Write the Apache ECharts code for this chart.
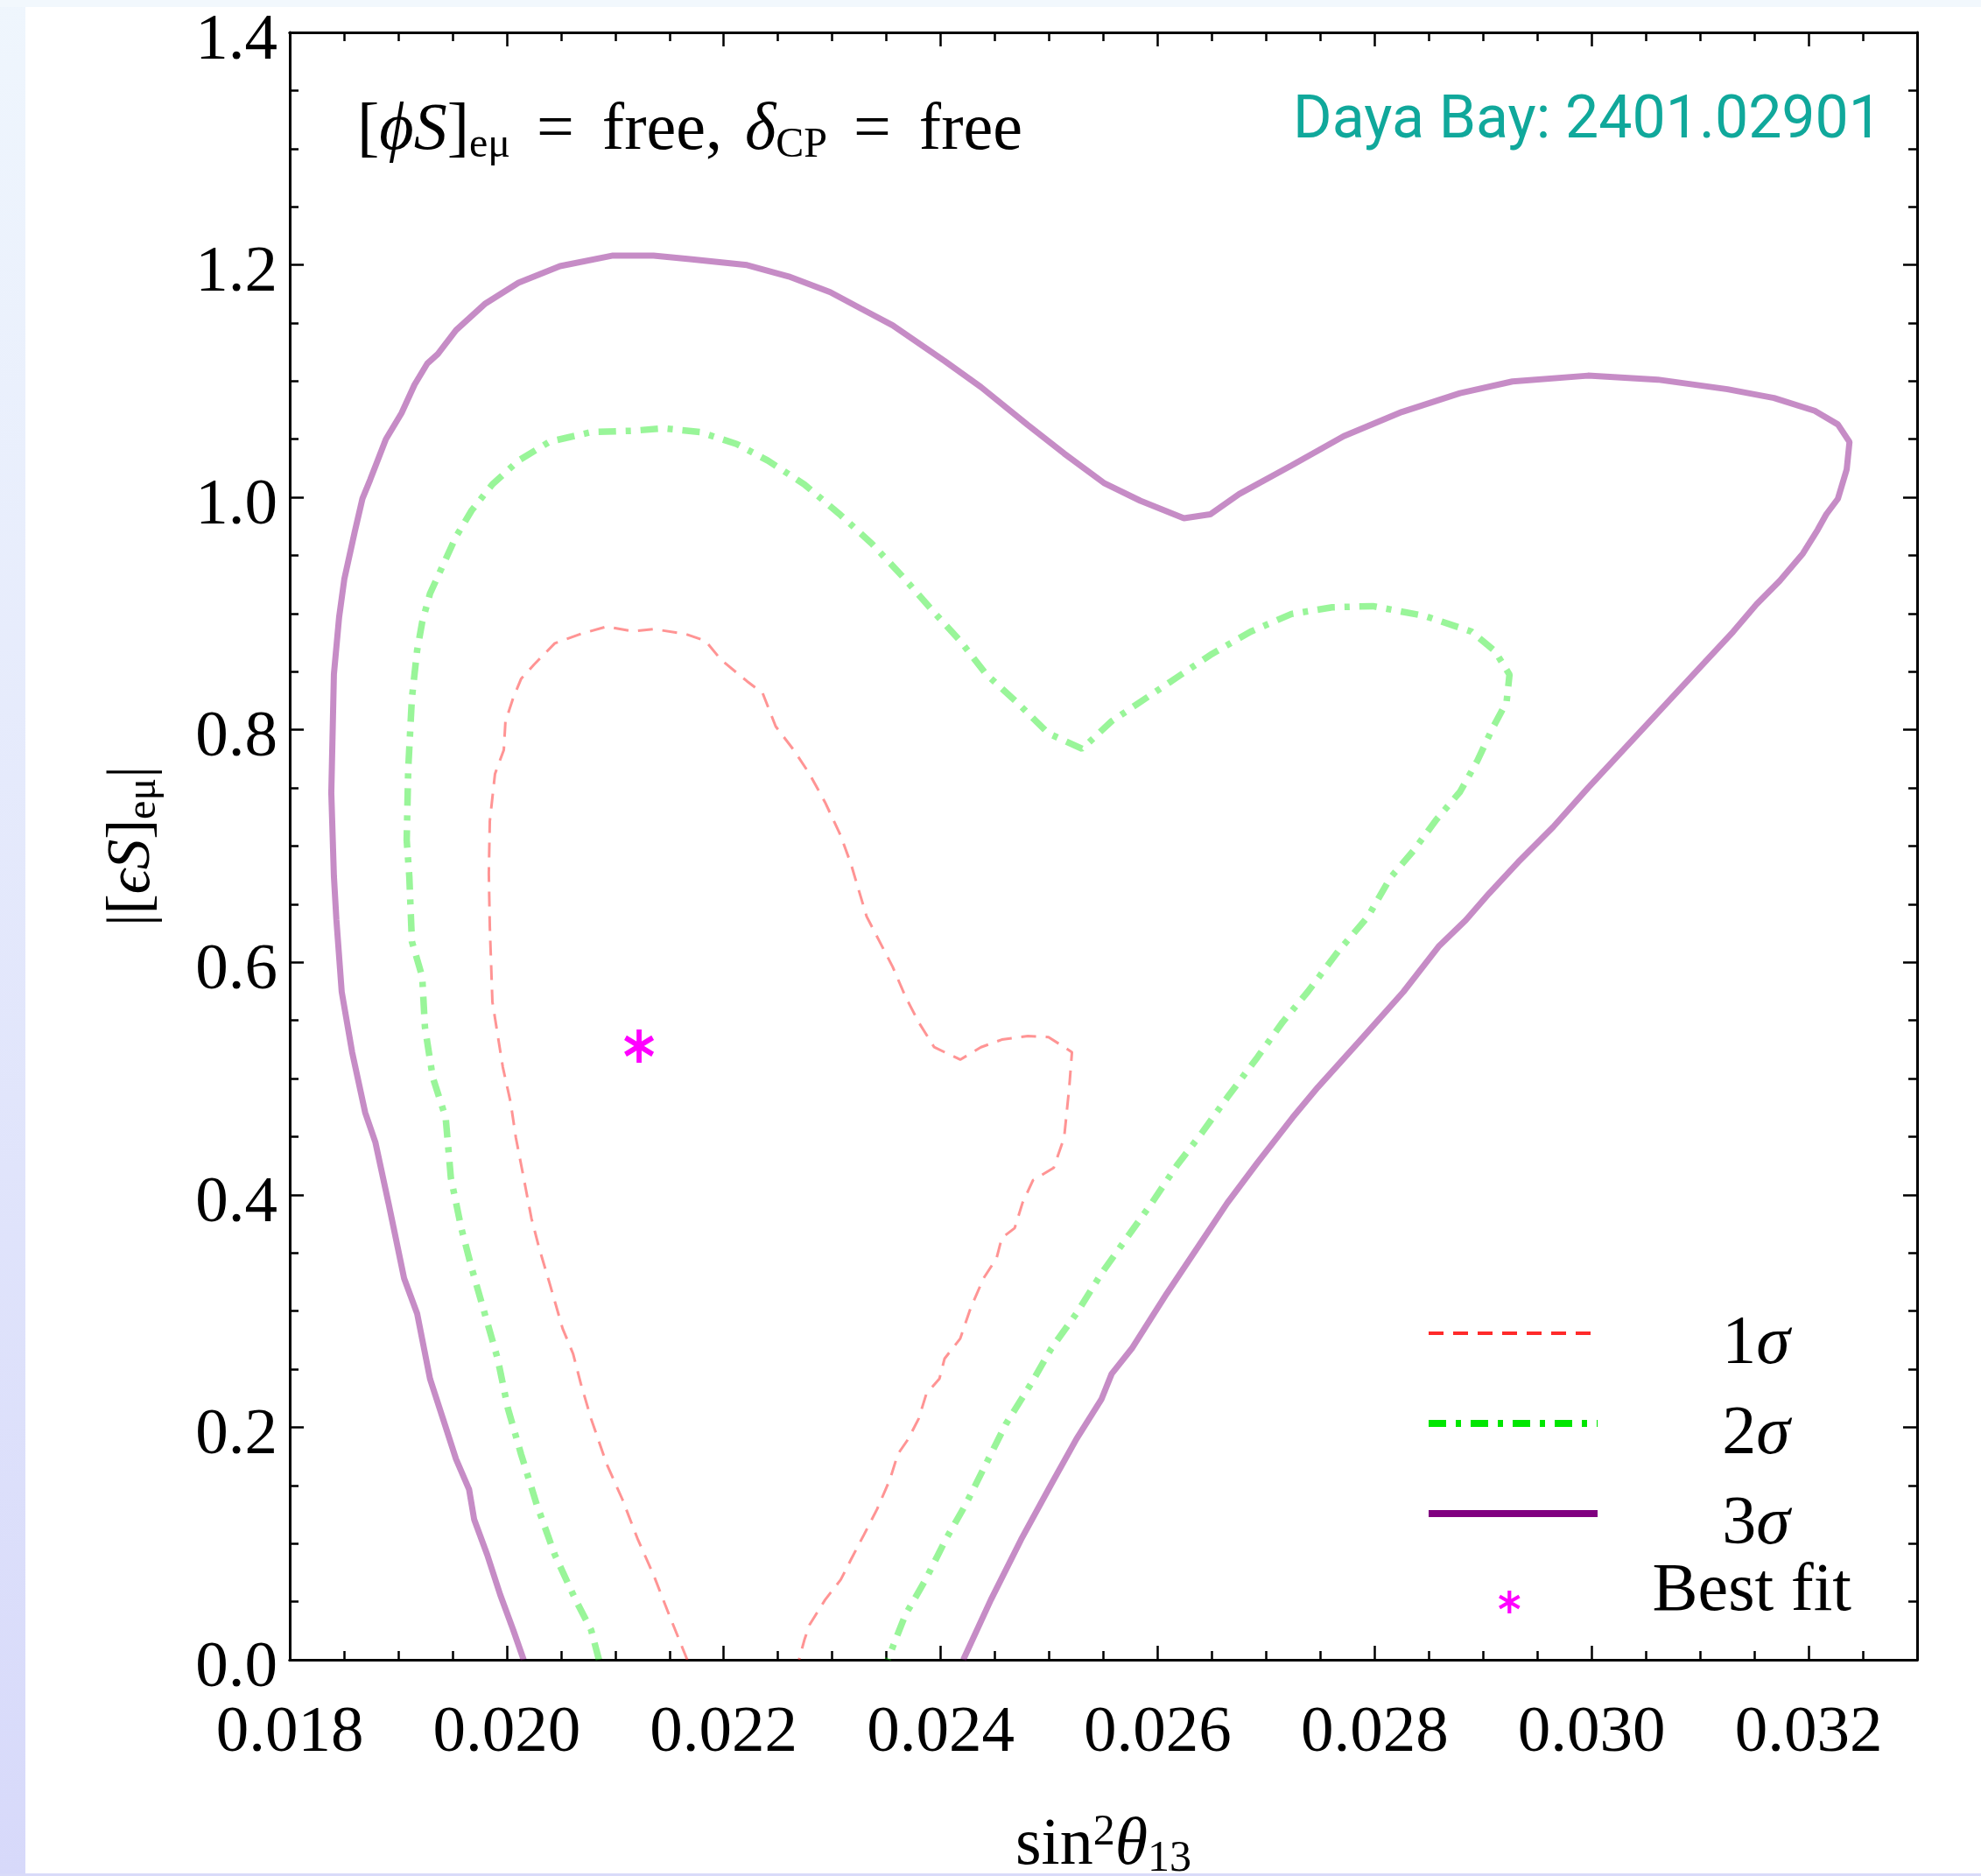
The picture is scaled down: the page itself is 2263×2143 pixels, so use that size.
<!DOCTYPE html>
<html>
<head>
<meta charset="utf-8">
<script src="https://cdn.jsdelivr.net/npm/echarts@6.0.0/dist/echarts.min.js"></script>
<style>
html, body { margin: 0; padding: 0; background: #fff; }
#main { width: 2263px; height: 2143px; }
</style>
</head>
<body>
<div id="main"></div>
<script>
// axis ranges
var xRange = [0.018, 0.033];
var yRange = [0, 1.4];

// 1 sigma contour (sin^2 theta13, |[eps_S]_emu|)
var contour1 = [
  [0.021664, 0], [0.021497, 0.0386], [0.021353, 0.0731], [0.021209, 0.1034], [0.021066, 0.1380],
  [0.020922, 0.1682], [0.020778, 0.2072], [0.020683, 0.2375], [0.020611, 0.2634], [0.020515, 0.2850],
  [0.020395, 0.3239], [0.020299, 0.3541], [0.020227, 0.3801], [0.020156, 0.4147], [0.020084, 0.4492],
  [0.020036, 0.4795], [0.019964, 0.5098], [0.019868, 0.5660], [0.019844, 0.6308], [0.019835, 0.6765],
  [0.019844, 0.7214], [0.019892, 0.7622], [0.019973, 0.7826], [0.019988, 0.8071], [0.020060, 0.8275],
  [0.020132, 0.8438], [0.020251, 0.8561], [0.020443, 0.8744], [0.020683, 0.8826], [0.020922, 0.8888],
  [0.021162, 0.8847], [0.021353, 0.8867], [0.021641, 0.8826], [0.021832, 0.8765], [0.021976, 0.8602],
  [0.022215, 0.8418], [0.022359, 0.8316], [0.022479, 0.8030], [0.022646, 0.7826], [0.022790, 0.7622],
  [0.022934, 0.7377], [0.023078, 0.7091], [0.023173, 0.6846], [0.023317, 0.6395], [0.023437, 0.6178],
  [0.023557, 0.5962], [0.023676, 0.5703], [0.023796, 0.5486], [0.023940, 0.5270], [0.024180, 0.5163],
  [0.024371, 0.5270], [0.024563, 0.5335], [0.024803, 0.5366], [0.024994, 0.5357], [0.025210, 0.5227],
  [0.025185, 0.4925], [0.025138, 0.4492], [0.025042, 0.4233], [0.024850, 0.4125], [0.024754, 0.3930],
  [0.024682, 0.3714], [0.024563, 0.3628], [0.024515, 0.3455], [0.024395, 0.3282], [0.024275, 0.3023],
  [0.024180, 0.2763], [0.024036, 0.2591], [0.023988, 0.2417], [0.023868, 0.2288], [0.023796, 0.2072],
  [0.023701, 0.1899], [0.023605, 0.1769], [0.023533, 0.1553], [0.023413, 0.1294], [0.023294, 0.1078],
  [0.023173, 0.0862], [0.023078, 0.0688], [0.022934, 0.0515], [0.022790, 0.0299], [0.022743, 0.0169],
  [0.022694, 0]
];

// 2 sigma contour
var contour2 = [
  [0.020850, 0], [0.020778, 0.0256], [0.020635, 0.0515], [0.020443, 0.0904], [0.020276, 0.1337],
  [0.020132, 0.1769], [0.020012, 0.2158], [0.019916, 0.2591], [0.019797, 0.2979], [0.019677, 0.3369],
  [0.019581, 0.3714], [0.019485, 0.4147], [0.019437, 0.4665], [0.019318, 0.5011], [0.019246, 0.5443],
  [0.019221, 0.5876], [0.019126, 0.6178], [0.019102, 0.6740], [0.019078, 0.7051], [0.019092, 0.7663],
  [0.019126, 0.8275], [0.019174, 0.8683], [0.019221, 0.8928], [0.019293, 0.9173], [0.019413, 0.9418],
  [0.019533, 0.9663], [0.019677, 0.9888], [0.019868, 1.0112], [0.020108, 1.0316], [0.020395, 1.0479],
  [0.020778, 1.0561], [0.021162, 1.0573], [0.021449, 1.0594], [0.021785, 1.0561], [0.022120, 1.0459],
  [0.022407, 1.0316], [0.022743, 1.0112], [0.023078, 0.9847], [0.023365, 0.9602], [0.023652, 0.9316],
  [0.023940, 0.9010], [0.024180, 0.8765], [0.024419, 0.8479], [0.024706, 0.8234], [0.024994, 0.7969],
  [0.025304, 0.7837], [0.025572, 0.8072], [0.026108, 0.8408], [0.026484, 0.8643], [0.026858, 0.8845],
  [0.027233, 0.8997], [0.027608, 0.9054], [0.027984, 0.9064], [0.028466, 0.8979], [0.028894, 0.8845],
  [0.029109, 0.8677], [0.029243, 0.8475], [0.029216, 0.8240], [0.029082, 0.8005], [0.028948, 0.7736],
  [0.028787, 0.7467], [0.028572, 0.7231], [0.028359, 0.6962], [0.028144, 0.6727], [0.027940, 0.6395],
  [0.027662, 0.6092], [0.027383, 0.5746], [0.027152, 0.5486], [0.026920, 0.5184], [0.026642, 0.4838],
  [0.026410, 0.4536], [0.026178, 0.4254], [0.025946, 0.3930], [0.025714, 0.3628], [0.025483, 0.3325],
  [0.025251, 0.2979], [0.025019, 0.2677], [0.024833, 0.2375], [0.024601, 0.2028], [0.024416, 0.1682],
  [0.024231, 0.1337], [0.024046, 0.1034], [0.023860, 0.0688], [0.023674, 0.0386], [0.023512, 0]
];

// 3 sigma contour
var contour3 = [
  [0.020156, 0], [0.020060, 0.0256], [0.019940, 0.0559], [0.019820, 0.0904], [0.019700, 0.1207],
  [0.019653, 0.1466], [0.019533, 0.1726], [0.019413, 0.2072], [0.019293, 0.2417], [0.019174, 0.2979],
  [0.019054, 0.3282], [0.018958, 0.3714], [0.018910, 0.3930], [0.018790, 0.4449], [0.018695, 0.4708],
  [0.018575, 0.5227], [0.018479, 0.5746], [0.018430, 0.6365], [0.018407, 0.6740], [0.018383, 0.7459],
  [0.018407, 0.8479], [0.018455, 0.8969], [0.018503, 0.9296], [0.018599, 0.9704], [0.018670, 0.9989],
  [0.018742, 1.0153], [0.018886, 1.0500], [0.019030, 1.0724], [0.019150, 1.0969], [0.019269, 1.1153],
  [0.019365, 1.1234], [0.019533, 1.1438], [0.019797, 1.1663], [0.020108, 1.1846], [0.020491, 1.1989],
  [0.020970, 1.2079], [0.021353, 1.2079], [0.021688, 1.2050], [0.022215, 1.1998], [0.022599, 1.1900],
  [0.022982, 1.1765], [0.023269, 1.1622], [0.023557, 1.1480], [0.024036, 1.1173], [0.024371, 1.0949],
  [0.024803, 1.0622], [0.025138, 1.0377], [0.025511, 1.0120], [0.025840, 0.9971], [0.026242, 0.9820],
  [0.026484, 0.9854], [0.026751, 1.0028], [0.027233, 1.0274], [0.027715, 1.0526], [0.028251, 1.0735],
  [0.028787, 1.0896], [0.029270, 1.0997], [0.029966, 1.1047], [0.030609, 1.1013], [0.031252, 1.0930],
  [0.031681, 1.0855], [0.032056, 1.0745], [0.032270, 1.0627], [0.032377, 1.0476], [0.032351, 1.0240],
  [0.032270, 0.9988], [0.032163, 0.9854], [0.032083, 0.9720], [0.031948, 0.9518], [0.031734, 0.9282],
  [0.031520, 0.9080], [0.031305, 0.8845], [0.031038, 0.8576], [0.030770, 0.8307], [0.030502, 0.8038],
  [0.030234, 0.7769], [0.029966, 0.7500], [0.029645, 0.7164], [0.029323, 0.6862], [0.029055, 0.6593],
  [0.028841, 0.6364], [0.028589, 0.6135], [0.028265, 0.5746], [0.027894, 0.5357], [0.027476, 0.4925],
  [0.027244, 0.4665], [0.026920, 0.4276], [0.026642, 0.3930], [0.026364, 0.3541], [0.026085, 0.3152],
  [0.025761, 0.2677], [0.025576, 0.2460], [0.025483, 0.2244], [0.025251, 0.1899], [0.025019, 0.1510],
  [0.024741, 0.1034], [0.024462, 0.0515], [0.024208, 0]
];

var bestFit = [[0.02122, 0.528]];

var seriesNames = ['1σ', '2σ', '3σ', 'Best fit'];

var serif = 'Liberation Serif, Times New Roman, serif';
// six-armed asterisk, like the TeX star
var asterisk = 'path://M42 0L58 0L58 100L42 100Z M2.7 31.9L10.7 18.1L97.3 68.1L89.3 81.9Z M10.7 81.9L2.7 68.1L89.3 18.1L97.3 31.9Z';

var myChart = echarts.init(document.getElementById('main'));

var tickStyle = { color: '#000', width: 2.5 };
var axisLineStyle = { color: '#000', width: 3 };

function xAxisOf(pos, interval, len, extra) {
    var ax = {
        type: 'value', position: pos, min: xRange[0], max: xRange[1], interval: interval,
        axisLine: { show: true, onZero: false, lineStyle: axisLineStyle },
        axisTick: { show: true, inside: true, length: len, lineStyle: tickStyle },
        axisLabel: { show: false },
        splitLine: { show: false }
    };
    return Object.assign(ax, extra || {});
}

function yAxisOf(pos, extra) {
    var ax = {
        type: 'value', position: pos, min: yRange[0], max: yRange[1], interval: 0.2,
        axisLine: { show: true, onZero: false, lineStyle: axisLineStyle },
        axisTick: { show: true, inside: true, length: 16, lineStyle: tickStyle },
        minorTick: { show: true, splitNumber: 4, length: 10, lineStyle: tickStyle },
        axisLabel: { show: false },
        splitLine: { show: false },
        minorSplitLine: { show: false }
    };
    return Object.assign(ax, extra || {});
}

var option = {
    animation: false,
    backgroundColor: '#fff',
    grid: { left: 331, top: 37, width: 1859, height: 1859, outerBoundsMode: 'none', containLabel: false },
    xAxis: [
        xAxisOf('bottom', 0.002, 16, {
            axisLabel: {
                show: true, showMaxLabel: false, margin: 46,
                fontFamily: serif, fontSize: 75, lineHeight: 76, color: '#000',
                formatter: function (v) { return v.toFixed(3); }
            },
            name: '{a|sin}{p|2}{t|θ}{b|13}',
            nameLocation: 'middle',
            nameGap: 173,
            nameTextStyle: {
                lineHeight: 80,
                rich: {
                    a: { fontFamily: serif, fontSize: 76, lineHeight: 80, color: '#000' },
                    p: { fontFamily: serif, fontSize: 50, lineHeight: 28, verticalAlign: 'top', color: '#000' },
                    t: { fontFamily: serif, fontStyle: 'italic', fontSize: 76, lineHeight: 80, color: '#000' },
                    b: { fontFamily: serif, fontSize: 50, lineHeight: 40, verticalAlign: 'bottom', color: '#000' }
                }
            }
        }),
        xAxisOf('bottom', 0.0005, 10),
        xAxisOf('top', 0.002, 16),
        xAxisOf('top', 0.0005, 10)
    ],
    yAxis: [
        yAxisOf('left', {
            axisLabel: {
                show: true, margin: 14,
                formatter: function (v) { return '{v|' + v.toFixed(1) + '}'; },
                rich: {
                    v: { fontFamily: serif, fontSize: 75, lineHeight: 76, padding: [20, 0, 0, 0], color: '#000' }
                }
            },
            name: '{a||[}{i|ϵS}{a|]}{s|eμ}{a||}',
            nameLocation: 'middle',
            nameGap: 143,
            nameTextStyle: {
                lineHeight: 72,
                rich: {
                    a: { fontFamily: serif, fontSize: 69, lineHeight: 72, color: '#000' },
                    i: { fontFamily: serif, fontStyle: 'italic', fontSize: 69, lineHeight: 72, color: '#000' },
                    s: { fontFamily: serif, fontSize: 48, lineHeight: 48, verticalAlign: 'bottom', color: '#000' }
                }
            }
        }),
        yAxisOf('right')
    ],
    legend: [
        {
            orient: 'vertical', left: 1628, top: 1480, padding: 0,
            itemWidth: 193, itemHeight: 30, itemGap: 8, selectedMode: false,
            lineStyle: { opacity: 1 },
            data: [
                { name: seriesNames[0], lineStyle: { width: 4, opacity: 1 }, itemStyle: { opacity: 0 } },
                { name: seriesNames[1], lineStyle: { width: 8, opacity: 1 }, itemStyle: { opacity: 0 } },
                { name: seriesNames[2], lineStyle: { width: 8, opacity: 1 }, itemStyle: { opacity: 0 } }
            ],
            formatter: function (name) {
                return '{d|' + name.charAt(0) + '}{g|σ}';
            },
            textStyle: {
                width: 352, lineHeight: 60, padding: [26, 0, 0, 0],
                rich: {
                    d: { fontFamily: serif, fontSize: 78, lineHeight: 60, align: 'center', color: '#000' },
                    g: { fontFamily: serif, fontStyle: 'italic', fontSize: 78, lineHeight: 60, align: 'center', color: '#000' }
                }
            }
        },
        {
            orient: 'vertical', left: 1712, top: 1780, padding: 0,
            itemWidth: 26, itemHeight: 26, selectedMode: false,
            data: [{ name: seriesNames[3], icon: asterisk, itemStyle: { color: '#ff00ff', opacity: 1 } }],
            formatter: function (name) { return '{r|' + name + '}'; },
            textStyle: {
                width: 518, lineHeight: 60, padding: [0, 0, 22, 0],
                rich: {
                    r: { fontFamily: serif, fontSize: 78, lineHeight: 60, align: 'center', color: '#000' }
                }
            }
        }
    ],
    graphic: [
        {
            type: 'rect', z: 100, silent: true,
            shape: { x: 0, y: 0, width: 29, height: 2143 },
            style: {
                fill: new echarts.graphic.LinearGradient(0, 0, 0, 1, [
                    { offset: 0, color: '#eff6fd' },
                    { offset: 1, color: '#d7d9fa' }
                ])
            }
        },
        { type: 'rect', z: 100, silent: true, shape: { x: 0, y: 0, width: 2263, height: 8 }, style: { fill: '#f2f8fd' } },
        { type: 'rect', z: 100, silent: true, shape: { x: 0, y: 2140, width: 2263, height: 3 }, style: { fill: '#d9dbf9' } },
        {
            type: 'text', x: 408, y: 150, silent: true,
            style: {
                text: '{b|[}{i|ϕS}{b|]}{s|eμ}{e|=}{b|free,}{d|δ}{s|CP}{e|=}{b|free}',
                align: 'left', verticalAlign: 'middle',
                rich: {
                    b: { fontFamily: serif, fontSize: 76, lineHeight: 80, fill: '#000' },
                    i: { fontFamily: serif, fontStyle: 'italic', fontSize: 76, lineHeight: 80, fill: '#000' },
                    d: { fontFamily: serif, fontStyle: 'italic', fontSize: 76, lineHeight: 80, padding: [0, 0, 0, 26], fill: '#000' },
                    s: { fontFamily: serif, fontSize: 48, lineHeight: 48, verticalAlign: 'bottom', fill: '#000' },
                    e: { fontFamily: serif, fontSize: 76, lineHeight: 80, padding: [0, 32, 0, 30], fill: '#000' }
                }
            }
        },
        {
            type: 'text', x: 2150, y: 140, silent: true,
            style: {
                text: 'Daya Bay: 2401.02901',
                align: 'right', verticalAlign: 'middle',
                font: '68px Roboto, sans-serif',
                fill: '#10a89b'
            }
        }
    ],
    series: [
        {
            name: seriesNames[0], type: 'line', data: contour1, symbol: 'none', showSymbol: false,
            xAxisIndex: 0, yAxisIndex: 0, z: 3,
            lineStyle: { color: '#ff2a2a', opacity: 0.5, width: 3, type: [17, 11] }
        },
        {
            name: seriesNames[1], type: 'line', data: contour2, symbol: 'none', showSymbol: false,
            xAxisIndex: 0, yAxisIndex: 0, z: 3,
            lineStyle: { color: '#00e600', opacity: 0.4, width: 7.5, type: [20, 11, 6, 11] }
        },
        {
            name: seriesNames[2], type: 'line', data: contour3, symbol: 'none', showSymbol: false,
            xAxisIndex: 0, yAxisIndex: 0, z: 3,
            lineStyle: { color: '#800080', opacity: 0.45, width: 7 }
        },
        {
            name: seriesNames[3], type: 'scatter', data: bestFit,
            xAxisIndex: 0, yAxisIndex: 0, z: 4,
            symbol: asterisk, symbolSize: [34, 38],
            itemStyle: { color: '#ff00ff', opacity: 1 }
        }
    ]
};
myChart.setOption(option);
</script>
</body>
</html>
